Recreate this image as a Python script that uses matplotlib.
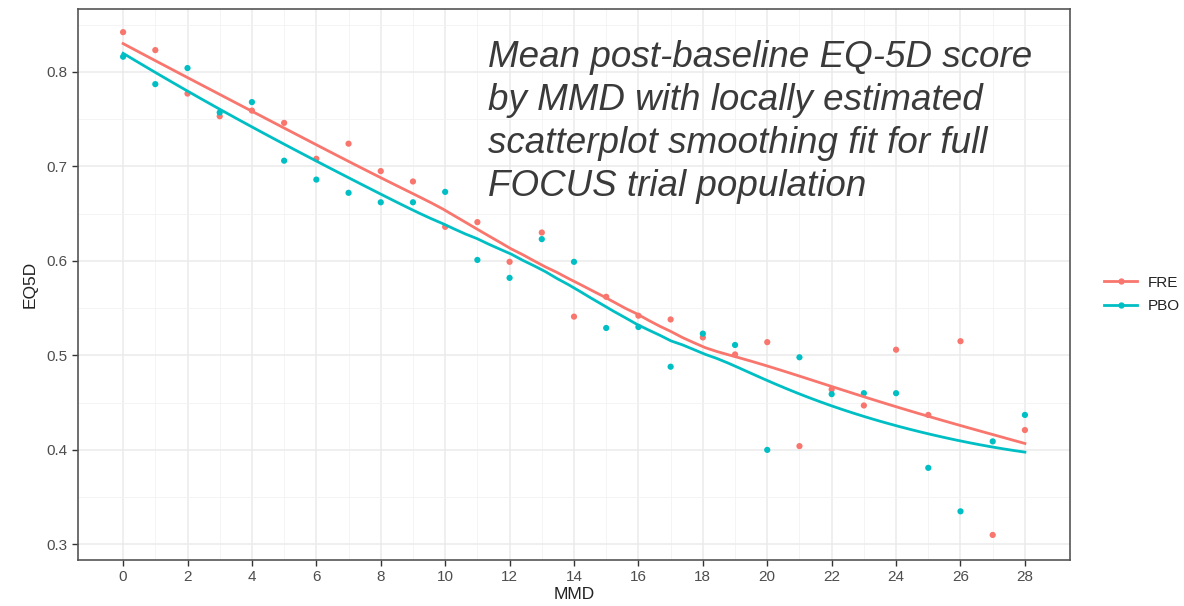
import numpy as np
import matplotlib
matplotlib.use('Agg')
import matplotlib.pyplot as plt
from matplotlib.lines import Line2D

# MMD 0..28, mean EQ-5D per group
mmd = list(range(29))
fre = [0.842, 0.823, 0.777, 0.753, 0.759, 0.746, 0.708, 0.724, 0.695, 0.684,
       0.636, 0.641, 0.599, 0.630, 0.541, 0.562, 0.542, 0.538, 0.519, 0.501,
       0.514, 0.404, 0.464, 0.447, 0.506, 0.437, 0.515, 0.310, 0.421]
pbo = [0.816, 0.787, 0.804, 0.757, 0.768, 0.706, 0.686, 0.672, 0.662, 0.662,
       0.673, 0.601, 0.582, 0.623, 0.599, 0.529, 0.530, 0.488, 0.523, 0.511,
       0.400, 0.498, 0.459, 0.460, 0.460, 0.381, 0.335, 0.409, 0.437]
groups = ['FRE', 'PBO']
colors = ['#F8766D', '#00BFC4']
note = ('Mean post-baseline EQ-5D score\nby MMD with locally estimated\n'
        'scatterplot smoothing fit for full\nFOCUS trial population')


def loess(x, y, xs, span=0.75):
    """local quadratic fit with tricube weights, like R's loess defaults"""
    x = np.asarray(x, float)
    y = np.asarray(y, float)
    q = int(np.floor(len(x) * span))
    out = []
    for x0 in xs:
        d = np.abs(x - x0)
        h = np.sort(d)[q - 1]
        w = np.clip(1 - (d / h) ** 3, 0, None) ** 3
        X = np.vstack([np.ones_like(x), x - x0, (x - x0) ** 2]).T
        W = np.diag(w)
        beta = np.linalg.solve(X.T @ W @ X, X.T @ W @ y)
        out.append(beta[0])
    return np.array(out)


plt.rcParams['font.family'] = ['Liberation Sans', 'DejaVu Sans']

fig = plt.figure(figsize=(11.84, 6.06), dpi=100)
ax = fig.add_axes([78 / 1184, 46 / 606, 992 / 1184, 551 / 606])

xs = np.linspace(0, 28, 80)
for vals, col in zip([fre, pbo], colors):
    ax.scatter(mmd, vals, s=20, color=col, edgecolors='none', zorder=3)
    ax.plot(xs, loess(mmd, vals, xs), color=col, lw=2, zorder=4)

ax.set_xlim(-1.4, 29.4)
ax.set_ylim(0.2835, 0.8665)
ax.set_xticks(range(0, 29, 2))
ax.set_xticks(range(1, 29, 2), minor=True)
ax.set_yticks([0.3, 0.4, 0.5, 0.6, 0.7, 0.8])
ax.set_yticks([0.35, 0.45, 0.55, 0.65, 0.75, 0.85], minor=True)
ax.set_yticklabels(['0.3', '0.4', '0.5', '0.6', '0.7', '0.8'])
ax.grid(which='major', color='#ebebeb', lw=1.1)
ax.grid(which='minor', color='#f2f2f2', lw=0.6)
ax.set_axisbelow(True)
ax.tick_params(which='major', length=4, width=1, color='#333333',
               labelsize=11, labelcolor='#4d4d4d')
ax.tick_params(which='minor', length=0)
for s in ax.spines.values():
    s.set_color('#555555')
    s.set_linewidth(1.2)
ax.set_xlabel('MMD', fontsize=12.5, color='#222222', labelpad=2)
ax.set_ylabel('EQ5D', fontsize=12.5, color='#222222', labelpad=6)

ax.text(488 / 1184, 1 - 40 / 606, note, transform=fig.transFigure,
        fontsize=26.5, style='italic', color='#3a3a3a', va='top', ha='left',
        linespacing=1.3)

# legend outside the panel, right edge of the image
handles = [Line2D([], [], color=c, lw=2, marker='o', markersize=3.5) for c in colors]
leg = fig.legend(handles, groups, loc='upper left',
                 bbox_to_anchor=(1090 / 1184, 1 - 262 / 606), frameon=False,
                 fontsize=11, handlelength=2.2, labelspacing=0.6,
                 handletextpad=0.7)
for t in leg.get_texts():
    t.set_color('#222222')

fig.savefig('out.png', dpi=100)
